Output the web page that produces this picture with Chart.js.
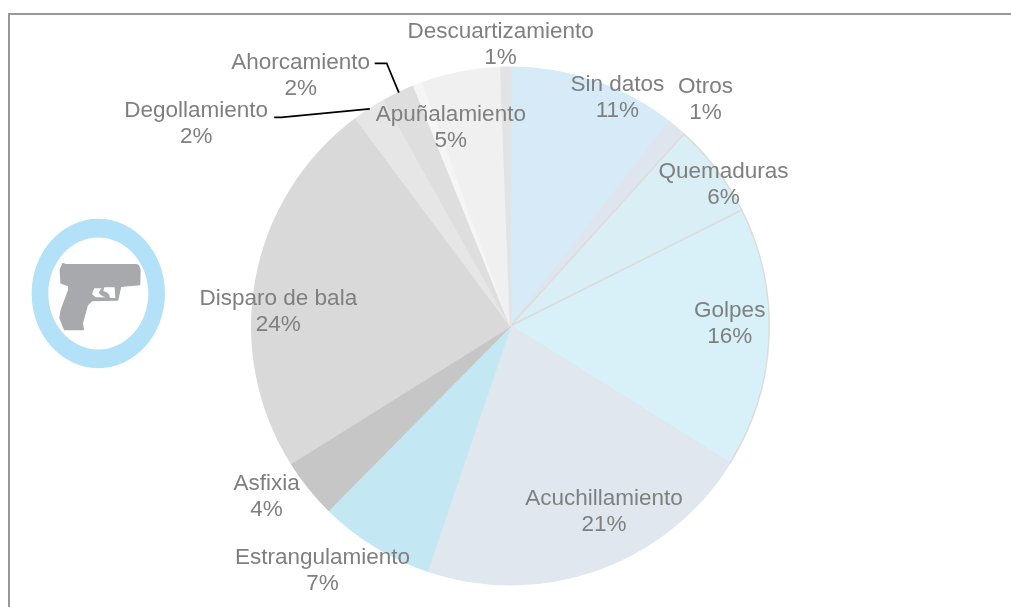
<!DOCTYPE html>
<html lang="es">
<head>
<meta charset="utf-8">
<title>Causas de muerte</title>
<script src="https://cdn.jsdelivr.net/npm/chart.js@4"></script>
<style>
  html, body { margin: 0; padding: 0; background: #fff; overflow: hidden; }
  #marco { position: absolute; left: 8px; top: 13px; right: 0; bottom: 0; border-left: 2px solid #989898; border-top: 2px solid #989898; }
  #grafico { position: absolute; left: 0; top: 0; }
  #icono { position: absolute; left: 0; top: 0; }
</style>
</head>
<body>
<div id="marco"></div>
<canvas id="grafico" width="1011" height="607"></canvas>
<svg id="icono" width="200" height="400" viewBox="0 0 200 400">
  <path fill="#b3e1f7" fill-rule="evenodd" d="M31.6 293.5 a66.7 74.7 0 1 0 133.4 0 a66.7 74.7 0 1 0 -133.4 0 Z M48.3 293.5 a50 56 0 1 0 100 0 a50 56 0 1 0 -100 0 Z"/>
  <g transform="translate(50 255) scale(0.3333)">
    <path fill="#a7a9ac" stroke="#a7a9ac" stroke-width="4" stroke-linejoin="round" d="M31 45 L38 26 L48 29 L255 29 Q267 27 270 45 L269 89 L212 94 L203 135 L125 137 L112 150 L97 205 L100 224 L44 224 L30 190 L33 168 L56 105 L56 92 L33 84 Z"/>
    <path fill="#fff" d="M133 100 L126 117 L137 127 L167 127 Q150 122 146 112 L155 100 Z"/>
    <path fill="#fff" d="M163 97 L194 97 L196 129 L180 128 Q178 112 160 108 Z"/>
  </g>
</svg>
<script>
const categorias = ['Sin datos', 'Otros', 'Quemaduras', 'Golpes', 'Acuchillamiento', 'Estrangulamiento', 'Asfixia', 'Disparo de bala', 'Degollamiento', 'Ahorcamiento', '', 'Apuñalamiento', 'Descuartizamiento'];
const valores = [10.5, 1.2, 5.9, 16.3, 21.3, 7.2, 3.7, 23.7, 2.1, 2.0, 0.6, 4.9, 0.6];
const porcentajes = ['11%', '1%', '6%', '16%', '21%', '7%', '4%', '24%', '2%', '2%', '', '5%', '1%'];

const colores = ['#d6ebf7', '#dee5ee', '#daeef5', '#d8f1f9', '#e0e7ef', '#c3e8f4', '#c6c6c6', '#d9d9d9', '#e6e6e6', '#dedede', '#f5f5f5', '#f0f0f0', '#e3e3e3'];
const bordes = ['#d6ebf7', '#dee5ee', '#dcdcdc', '#dcdcdc', '#e0e7ef', '#c3e8f4', '#c6c6c6', '#d9d9d9', '#e6e6e6', '#dedede', '#f5f5f5', '#f0f0f0', '#e3e3e3'];

// desplazamiento de cada etiqueta respecto al centro de su porcion
const desplazamientos = [[65, -106], [112, -127], [110, -63], [90, -8], [50, 64], [-120, 135], [-143, 90], [-105, 10], [-244, -94], [-154, -133], [0, 0], [-35, -71], [-7.5, -152]];

// lineas guia: indice de la porcion y tramo inicial respecto a la etiqueta
const guias = [
  { i: 8, ini: [78, -6], codo: [85, -6] },
  { i: 9, ini: [74, -13], codo: [86, -13] }
];

const etiquetas = {
  id: 'etiquetas',
  afterDatasetsDraw(chart) {
    const ctx = chart.ctx;
    const arcos = chart.getDatasetMeta(0).data;
    ctx.save();
    ctx.font = '22.5px "Liberation Sans", Arial, sans-serif';
    ctx.fillStyle = '#7f7f7f';
    ctx.textAlign = 'center';
    ctx.textBaseline = 'middle';

    // Lineas guia
    ctx.strokeStyle = '#000';
    ctx.lineWidth = 1.75;
    guias.forEach(({ i, ini, codo }) => {
      const p = arcos[i].tooltipPosition();
      const lx = p.x + desplazamientos[i][0];
      const ly = p.y + desplazamientos[i][1];
      const medio = (arcos[i].startAngle + arcos[i].endAngle) / 2;
      ctx.beginPath();
      ctx.moveTo(lx + ini[0], ly + ini[1]);
      ctx.lineTo(lx + codo[0], ly + codo[1]);
      ctx.lineTo(arcos[i].x + Math.cos(medio) * arcos[i].outerRadius, arcos[i].y + Math.sin(medio) * arcos[i].outerRadius);
      ctx.stroke();
    });

    // Textos
    categorias.forEach((nombre, i) => {
      if (!nombre) return;
      const p = arcos[i].tooltipPosition();
      const x = p.x + desplazamientos[i][0];
      const y = p.y + desplazamientos[i][1];
      ctx.fillText(nombre, x, y - 13);
      ctx.fillText(porcentajes[i], x, y + 13);
    });
    ctx.restore();
  }
};

new Chart(document.getElementById('grafico').getContext('2d'), {
  type: 'pie',
  data: {
    labels: categorias,
    datasets: [{
      data: valores,
      backgroundColor: colores,
      borderColor: bordes,
      borderWidth: 1.5,
      hoverOffset: 0
    }]
  },
  options: {
    responsive: false,
    animation: false,
    layout: { padding: { left: 251, right: 241, top: 66.5, bottom: 21.5 } },
    plugins: { legend: { display: false }, tooltip: { enabled: false } }
  },
  plugins: [etiquetas]
});
</script>
</body>
</html>
